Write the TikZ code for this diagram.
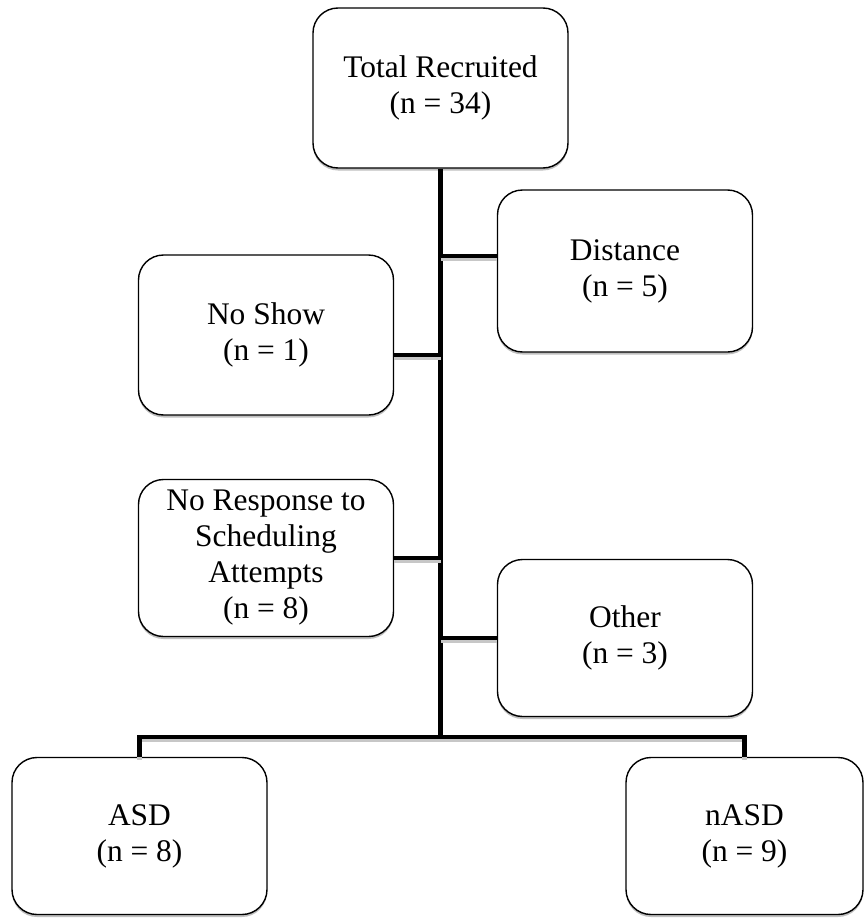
\documentclass[tikz,border=0pt]{standalone}
\usepackage{fontspec}
\setmainfont{Liberation Serif}
\usetikzlibrary{shadows}
\tikzset{
  box/.style={draw, rounded corners=0.5cm, minimum width=5.1cm, minimum height=3.2cm,
    align=center, fill=white, line width=0.8pt, font=\fontsize{17.9}{20.5}\selectfont,
    drop shadow={shadow xshift=0pt, shadow yshift=-0.05cm, fill=black!25, opacity=1}},
  link/.style={line width=2.4pt,
    preaction={draw=black!22, line width=2.4pt, transform canvas={yshift=-1.6pt}}}
}
\begin{document}
\begin{tikzpicture}
\useasboundingbox (0,0) rectangle (17.28,-18.38);
\node[box] (total) at (8.81,-1.76) {Total Recruited\\(n = 34)};
\node[box, minimum height=3.24cm] (distance) at (12.5,-5.42) {Distance\\(n = 5)};
\node[box] (noshow) at (5.32,-6.70) {No Show\\(n = 1)};
\node[box, minimum height=3.14cm] (noresp) at (5.32,-11.16) {No Response to\\Scheduling\\Attempts\\(n = 8)};
\node[box, minimum height=3.14cm] (other) at (12.5,-12.76) {Other\\(n = 3)};
\node[box, minimum height=3.14cm] (asd) at (2.79,-16.72) {ASD\\(n = 8)};
\node[box, minimum height=3.14cm, minimum width=4.74cm] (nasd) at (14.89,-16.72) {nASD\\(n = 9)};
% trunk and branches
\coordinate (bar) at (8.81,-14.74);
\coordinate (jd) at (8.81,-5.12);
\coordinate (jn) at (8.81,-7.1);
\draw[link] (total.south) -- (bar);
\draw[link] (jd) -- (jd -| distance.west);
\draw[link] (jn) -- (jn -| noshow.east);
\draw[link] (noresp.east) -- (noresp.east -| bar);
\draw[link] (other.west) -- (other.west -| bar);
\draw[link] (asd.north) |- (bar) -| (nasd.north);
\end{tikzpicture}
\end{document}
